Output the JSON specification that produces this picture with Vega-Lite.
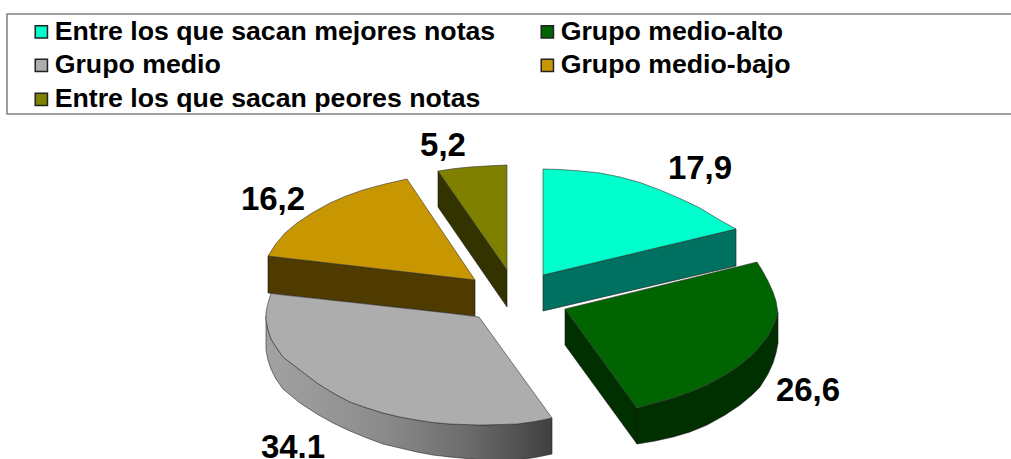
{"$schema":"https://vega.github.io/schema/vega-lite/v6.json","width":1011,"height":459,"autosize":{"type":"none"},"padding":0,"background":"white","view":{"stroke":null},
"datasets":{
"tops":[
{"slice":"Entre los que sacan mejores notas","value":17.9,"x":543,"y":169,"y2":275},{"slice":"Entre los que sacan mejores notas","value":17.9,"x":560,"y":169.5,"y2":271},{"slice":"Entre los que sacan mejores notas","value":17.9,"x":580,"y":171,"y2":266.2},{"slice":"Entre los que sacan mejores notas","value":17.9,"x":600,"y":173,"y2":261.4},{"slice":"Entre los que sacan mejores notas","value":17.9,"x":620,"y":177,"y2":256.7},{"slice":"Entre los que sacan mejores notas","value":17.9,"x":640,"y":182.5,"y2":251.9},{"slice":"Entre los que sacan mejores notas","value":17.9,"x":660,"y":190,"y2":247.1},{"slice":"Entre los que sacan mejores notas","value":17.9,"x":680,"y":198.5,"y2":242.4},{"slice":"Entre los que sacan mejores notas","value":17.9,"x":700,"y":208,"y2":237.6},{"slice":"Entre los que sacan mejores notas","value":17.9,"x":718,"y":219,"y2":233.3},{"slice":"Entre los que sacan mejores notas","value":17.9,"x":736,"y":229,"y2":229},
{"slice":"Grupo medio-alto","value":26.6,"x":565,"y":309,"y2":309},{"slice":"Grupo medio-alto","value":26.6,"x":600,"y":300.4,"y2":357},{"slice":"Grupo medio-alto","value":26.6,"x":637,"y":291.4,"y2":408},{"slice":"Grupo medio-alto","value":26.6,"x":655,"y":287,"y2":403},{"slice":"Grupo medio-alto","value":26.6,"x":673,"y":282.6,"y2":398},{"slice":"Grupo medio-alto","value":26.6,"x":690,"y":278.4,"y2":392},{"slice":"Grupo medio-alto","value":26.6,"x":707,"y":274.2,"y2":385},{"slice":"Grupo medio-alto","value":26.6,"x":725,"y":269.8,"y2":375},{"slice":"Grupo medio-alto","value":26.6,"x":740,"y":266.2,"y2":365},{"slice":"Grupo medio-alto","value":26.6,"x":752,"y":263.2,"y2":355},{"slice":"Grupo medio-alto","value":26.6,"x":757,"y":262,"y2":350},{"slice":"Grupo medio-alto","value":26.6,"x":762,"y":270,"y2":343.5},{"slice":"Grupo medio-alto","value":26.6,"x":768,"y":281,"y2":336},{"slice":"Grupo medio-alto","value":26.6,"x":773,"y":292,"y2":326},{"slice":"Grupo medio-alto","value":26.6,"x":776,"y":301,"y2":319},{"slice":"Grupo medio-alto","value":26.6,"x":778,"y":313,"y2":313},
{"slice":"Grupo medio","value":34.1,"x":266,"y":312,"y2":320},{"slice":"Grupo medio","value":34.1,"x":268,"y":303,"y2":330},{"slice":"Grupo medio","value":34.1,"x":271,"y":293.5,"y2":339},{"slice":"Grupo medio","value":34.1,"x":276,"y":294,"y2":347},{"slice":"Grupo medio","value":34.1,"x":283,"y":295,"y2":357},{"slice":"Grupo medio","value":34.1,"x":300,"y":296.8,"y2":370},{"slice":"Grupo medio","value":34.1,"x":317,"y":298.6,"y2":383},{"slice":"Grupo medio","value":34.1,"x":333,"y":300.4,"y2":393},{"slice":"Grupo medio","value":34.1,"x":350,"y":302.2,"y2":402},{"slice":"Grupo medio","value":34.1,"x":367,"y":304.1,"y2":408},{"slice":"Grupo medio","value":34.1,"x":383,"y":305.9,"y2":413},{"slice":"Grupo medio","value":34.1,"x":400,"y":307.8,"y2":417},{"slice":"Grupo medio","value":34.1,"x":417,"y":309.6,"y2":420},{"slice":"Grupo medio","value":34.1,"x":433,"y":311.4,"y2":422.5},{"slice":"Grupo medio","value":34.1,"x":450,"y":313.3,"y2":424},{"slice":"Grupo medio","value":34.1,"x":479,"y":317,"y2":425},{"slice":"Grupo medio","value":34.1,"x":483,"y":322.5,"y2":425},{"slice":"Grupo medio","value":34.1,"x":517,"y":369.6,"y2":424},{"slice":"Grupo medio","value":34.1,"x":535,"y":394.5,"y2":421.5},{"slice":"Grupo medio","value":34.1,"x":552,"y":418,"y2":418},
{"slice":"Grupo medio-bajo","value":16.2,"x":268,"y":256,"y2":256},{"slice":"Grupo medio-bajo","value":16.2,"x":275,"y":245,"y2":256.8},{"slice":"Grupo medio-bajo","value":16.2,"x":285,"y":233,"y2":258},{"slice":"Grupo medio-bajo","value":16.2,"x":297,"y":223,"y2":259.4},{"slice":"Grupo medio-bajo","value":16.2,"x":312,"y":213,"y2":261.1},{"slice":"Grupo medio-bajo","value":16.2,"x":330,"y":203,"y2":263.2},{"slice":"Grupo medio-bajo","value":16.2,"x":346,"y":196,"y2":265},{"slice":"Grupo medio-bajo","value":16.2,"x":363,"y":190,"y2":267},{"slice":"Grupo medio-bajo","value":16.2,"x":385,"y":184,"y2":269.6},{"slice":"Grupo medio-bajo","value":16.2,"x":407,"y":179,"y2":272.1},{"slice":"Grupo medio-bajo","value":16.2,"x":430,"y":213.2,"y2":274.8},{"slice":"Grupo medio-bajo","value":16.2,"x":475,"y":280,"y2":280},
{"slice":"Entre los que sacan peores notas","value":5.2,"x":438,"y":171,"y2":171},{"slice":"Entre los que sacan peores notas","value":5.2,"x":455,"y":168.5,"y2":195.4},{"slice":"Entre los que sacan peores notas","value":5.2,"x":470,"y":167,"y2":217},{"slice":"Entre los que sacan peores notas","value":5.2,"x":490,"y":165.8,"y2":245.6},{"slice":"Entre los que sacan peores notas","value":5.2,"x":507,"y":165,"y2":270}],
"sides":[
{"slice":"Entre los que sacan mejores notas","part":"a","x":543,"y":275,"y2":311},{"slice":"Entre los que sacan mejores notas","part":"a","x":736,"y":229,"y2":266},
{"slice":"Grupo medio-alto","part":"wall","x":565,"y":309,"y2":345},{"slice":"Grupo medio-alto","part":"wall","x":637,"y":408,"y2":444},
{"slice":"Grupo medio-alto","part":"rim","x":637,"y":408,"y2":444},{"slice":"Grupo medio-alto","part":"rim","x":655,"y":403,"y2":441},{"slice":"Grupo medio-alto","part":"rim","x":673,"y":398,"y2":437},{"slice":"Grupo medio-alto","part":"rim","x":690,"y":392,"y2":432},{"slice":"Grupo medio-alto","part":"rim","x":707,"y":385,"y2":425},{"slice":"Grupo medio-alto","part":"rim","x":725,"y":375,"y2":415},{"slice":"Grupo medio-alto","part":"rim","x":740,"y":365,"y2":405},{"slice":"Grupo medio-alto","part":"rim","x":752,"y":355,"y2":395},{"slice":"Grupo medio-alto","part":"rim","x":760,"y":346,"y2":387},{"slice":"Grupo medio-alto","part":"rim","x":768,"y":336,"y2":374},{"slice":"Grupo medio-alto","part":"rim","x":773,"y":326,"y2":363},{"slice":"Grupo medio-alto","part":"rim","x":776,"y":319,"y2":353},{"slice":"Grupo medio-alto","part":"rim","x":778,"y":313,"y2":343},
{"slice":"Grupo medio-bajo","part":"a","x":268,"y":256,"y2":293},{"slice":"Grupo medio-bajo","part":"a","x":475,"y":280,"y2":316},
{"slice":"Entre los que sacan peores notas","part":"a","x":438,"y":171,"y2":207},{"slice":"Entre los que sacan peores notas","part":"a","x":507,"y":270,"y2":307}],
"graySide":[
{"slice":"Grupo medio","x":266,"y":316,"y2":350},{"slice":"Grupo medio","x":268,"y":330,"y2":360},{"slice":"Grupo medio","x":271,"y":339,"y2":369},{"slice":"Grupo medio","x":276,"y":347,"y2":379},{"slice":"Grupo medio","x":283,"y":357,"y2":389},{"slice":"Grupo medio","x":300,"y":370,"y2":403},{"slice":"Grupo medio","x":317,"y":383,"y2":414},{"slice":"Grupo medio","x":333,"y":393,"y2":423},{"slice":"Grupo medio","x":350,"y":402,"y2":431},{"slice":"Grupo medio","x":367,"y":408,"y2":438},{"slice":"Grupo medio","x":383,"y":413,"y2":444},{"slice":"Grupo medio","x":400,"y":417,"y2":448},{"slice":"Grupo medio","x":417,"y":420,"y2":452},{"slice":"Grupo medio","x":433,"y":422.5,"y2":455},{"slice":"Grupo medio","x":450,"y":424,"y2":457},{"slice":"Grupo medio","x":483,"y":425,"y2":460},{"slice":"Grupo medio","x":517,"y":424,"y2":460},{"slice":"Grupo medio","x":535,"y":421.5,"y2":457.5},{"slice":"Grupo medio","x":552,"y":418,"y2":454}],
"labels":[
{"label":"17,9","x":700,"y":179},{"label":"26,6","x":808,"y":401},{"label":"34.1","x":293,"y":458},{"label":"16,2","x":273,"y":210},{"label":"5,2","x":443,"y":156}],
"box":[{"x":7,"x2":1030,"y":14,"y2":114}]},
"layer":[
{"data":{"name":"box"},"mark":{"type":"rect","fill":"white","stroke":"#808080","strokeWidth":1.5,"clip":true},
 "encoding":{"x":{"field":"x","type":"quantitative","scale":{"domain":[0,1011],"nice":false,"zero":false},"axis":null},"x2":{"field":"x2"},"y":{"field":"y","type":"quantitative","scale":{"domain":[459,0],"nice":false,"zero":false},"axis":null},"y2":{"field":"y2"}}},
{"data":{"name":"graySide"},"mark":{"type":"area","stroke":"#222222","strokeWidth":0.6,"color":{"gradient":"linear","x1":0,"x2":1,"y1":0,"y2":0,"stops":[{"offset":0,"color":"#a2a2a2"},{"offset":0.4,"color":"#8c8c8c"},{"offset":0.7,"color":"#6c6c6c"},{"offset":1,"color":"#404040"}]}},
 "encoding":{"x":{"field":"x","type":"quantitative","axis":null},"y":{"field":"y","type":"quantitative","axis":null},"y2":{"field":"y2"}}},
{"data":{"name":"sides"},"mark":{"type":"area","stroke":"#1a1a1a","strokeWidth":0.6},
 "encoding":{"x":{"field":"x","type":"quantitative","axis":null},"y":{"field":"y","type":"quantitative","axis":null},"y2":{"field":"y2"},"detail":{"field":"part"},
 "fill":{"field":"slice","type":"nominal","legend":null,"scale":{"domain":["Entre los que sacan mejores notas","Grupo medio-alto","Grupo medio-bajo","Entre los que sacan peores notas"],"range":["#007060","#003000","#4f3a00","#333300"]}}}},
{"data":{"name":"tops"},"mark":{"type":"area","stroke":"#333333","strokeWidth":0.6},
 "encoding":{"x":{"field":"x","type":"quantitative","axis":null},"y":{"field":"y","type":"quantitative","axis":null},"y2":{"field":"y2"},
 "color":{"field":"slice","type":"nominal","sort":null,"scale":{"domain":["Entre los que sacan mejores notas","Grupo medio","Entre los que sacan peores notas","Grupo medio-alto","Grupo medio-bajo"],"range":["#00ffcc","#adadad","#808000","#006400","#c89600"]},
 "legend":{"title":null,"orient":"none","legendX":28,"legendY":18,"columns":2,"symbolType":"square","symbolSize":150,"symbolStrokeColor":"#222222","symbolStrokeWidth":1.5,"symbolOpacity":1,"labelFont":"Liberation Sans","labelFontWeight":"bold","labelFontSize":26.7,"labelColor":"black","labelLimit":600,"labelOffset":0,"rowPadding":6,"columnPadding":38}}}},
{"data":{"name":"labels"},"mark":{"type":"text","font":"Liberation Sans","fontWeight":"bold","fontSize":33,"color":"black","align":"center","baseline":"alphabetic"},
 "encoding":{"x":{"field":"x","type":"quantitative","axis":null},"y":{"field":"y","type":"quantitative","axis":null},"text":{"field":"label"}}}
],
"resolve":{"scale":{"fill":"independent","color":"independent"}}}
